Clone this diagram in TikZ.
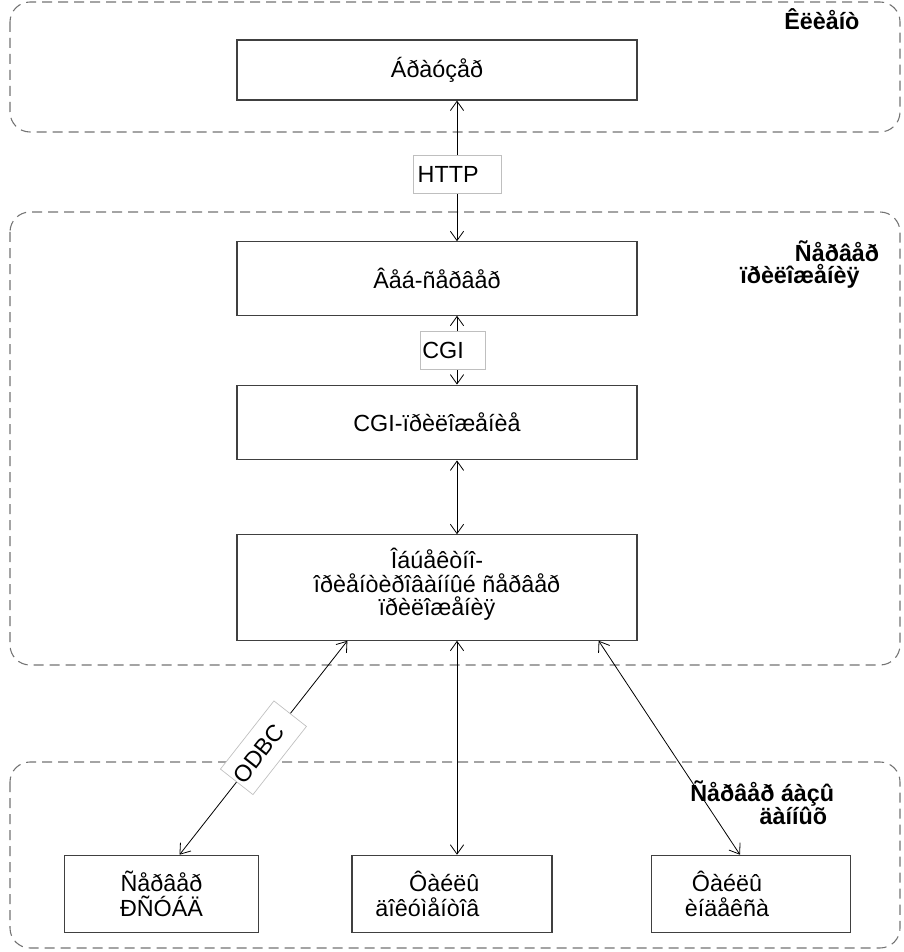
\documentclass[tikz,border=0pt]{standalone}
\usepackage{fontspec}
\setmainfont{Liberation Sans}
\usetikzlibrary{positioning,calc,arrows.meta}

\begin{document}
\begin{tikzpicture}[x=0.75pt,y=-0.75pt,
         font=\fontsize{17.5}{17.6}\selectfont,
         group/.style = {draw=black!55, dash pattern=on 7.5pt off 4.5pt,
            line width=0.8pt, rounded corners=15pt},
         grouplabel/.style = {font=\fontsize{17.5}{16.5}\selectfont\bfseries,
            align=left, anchor=north west, inner sep=0pt},
         block/.style = {draw=black!75, line width=0.9pt, fill=white,
            minimum width=300pt, align=center},
         smallblock/.style = {block, minimum height=58pt,
            font=\fontsize{17.5}{19}\selectfont},
         link/.style = {{Straight Barb[length=7pt,width=10pt]}-{Straight Barb[length=7pt,width=10pt]},
            line width=0.6pt},
         proto/.style = {draw=black!25, fill=white, line width=0.5pt,
            align=left, minimum height=28pt, inner ysep=0pt}
]
      \useasboundingbox (0,0) rectangle (903,952);

      % groups
      \draw[group] (10,2) rectangle (900,132);
      \draw[group] (10,212) rectangle (900,665);
      \draw[group] (10,762) rectangle (900,948);

      \node[grouplabel] (clientlbl) at (784,8) {Êëèåíò};
      \node[grouplabel] (applbl) at (740,240) {\hspace*{41pt}Ñåðâåð\\ïðèëîæåíèÿ};
      \node[grouplabel] (dblbl) at (690,780) {Ñåðâåð áàçû\\\hspace*{52pt}äàííûõ};

      % boxes
      \node[block, minimum height=45pt] (browser) at (437,70) {Áðàóçåð};
      \node[block, minimum height=55pt] (websrv) at (437,278.5) {Âåá-ñåðâåð};
      \node[block, minimum height=56pt] (cgiapp) at (437,422.5) {CGI-ïðèëîæåíèå};
      \node[block, minimum height=79pt] (appsrv) at (437,587.5)
         {\mbox{}\\[-7pt]Îáúåêòíî-\\îðèåíòèðîâàííûé ñåðâåð\\ïðèëîæåíèÿ};

      \node[smallblock, minimum width=145pt] (rdbms) at (161.5,894) {Ñåðâåð\\ÐÑÓÁÄ};
      \node[smallblock, minimum width=150pt, align=right] (docs) at (452,894)
         {Ôàéëû\hspace*{37pt}\\äîêóìåíòîâ\hspace*{37pt}};
      \node[smallblock, minimum width=149pt] (index) at (751,894)
         {Ôàéëû\hspace*{36pt}\\èíäåêñà\hspace*{36pt}};

      % links
      \draw[link] ($(browser.south)+(20,0)$) -- node[proto, pos=0.525, inner xsep=3.5pt,
         text width=59pt] (http) {HTTP} ($(websrv.north)+(20,0)$);
      \draw[link] ($(websrv.south)+(20,0)$) -- node[proto, pos=0.5, xshift=-3pt,
         inner xsep=1.5pt, text width=46pt] (cgi) {CGI} ($(cgiapp.north)+(20,0)$);
      \draw[link] ($(cgiapp.south)+(20,0)$) -- ($(appsrv.north)+(20,0)$);

      \draw[link] ($(rdbms.north)+(18,0)$) -- node[proto, sloped, pos=0.5,
         inner xsep=1.5pt, text width=62pt, minimum height=31pt] (odbc) {ODBC}
         ($(appsrv.south west)+(111,0)$);
      \draw[link] ($(appsrv.south)+(20,0)$) -- ($(docs.north)+(5,0)$);
      \draw[link] ($(appsrv.south east)+(-39,0)$) -- ($(index.north)+(-11,0)$);
\end{tikzpicture}
\end{document}
